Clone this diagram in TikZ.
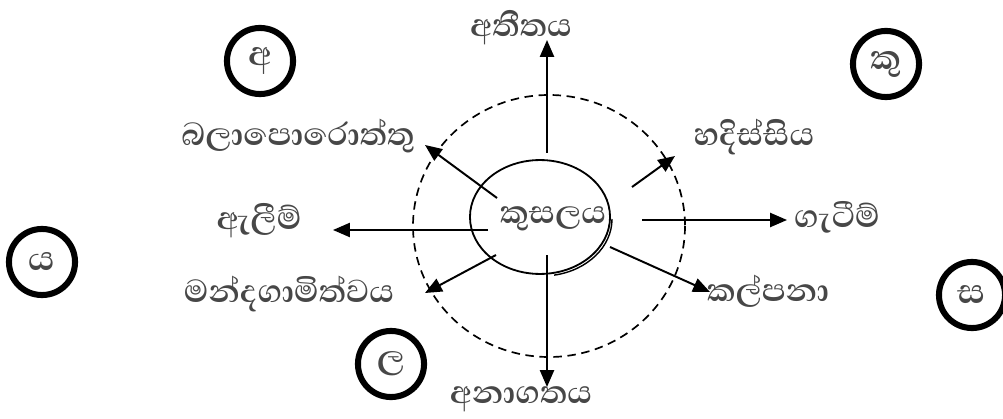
\documentclass[tikz,border=0pt]{standalone}
\usepackage{fontspec}
\newfontfamily\sinfont[Script=Sinhala]{Abhaya Libre}
\usetikzlibrary{arrows.meta,shapes.geometric}
\tikzset{lbl/.style={text=black!72, inner sep=0pt, font=\sinfont\bfseries\fontsize{29}{32}\selectfont},
         ring/.style={circle, draw, line width=4.3pt, minimum size=47pt, inner sep=0pt, text=black!72, font=\sinfont\bfseries\fontsize{31}{34}\selectfont},
         arr/.style={line width=1.4pt, -{Triangle[length=12pt,width=10pt]}}}

\begin{document}
\begin{tikzpicture}[x=0.025cm, y=-0.025cm]
\useasboundingbox (0,0) rectangle (1003,419);
\draw [line width=1.2pt, dash pattern=on 6pt off 4pt] (549,226) ellipse [x radius=136, y radius=131];
\node [ellipse, draw, line width=1.3pt, minimum width=99.6pt, minimum height=81pt] (kusal) at (540,217) {};
\draw [line width=1pt] (542,219) ++(0:70 and 57) arc [start angle=0, end angle=80, x radius=70, y radius=57];
\node [lbl] (kusalaya) at (553,219) {කුසලය};
\node [lbl] (atita) at (521,28) {අතීතය};
\node [lbl] (anagata) at (521,399) {අනාගතය};
\node [lbl] (balaporottu) at (298,136) {බලාපොරොත්තු};
\node [lbl] (alim) at (259,221) {ඇලීම්};
\node [lbl] (mandagami) at (289,294) {මන්දගාමිත්වය};
\node [lbl] (hadissiya) at (754,137) {හදිස්සිය};
\node [lbl] (gatim) at (837,217) {ගැටීම්};
\node [lbl] (kalpana) at (768,291) {කල්පනා};
\node [ring] (ringA) at (260,61) {අ};
\node [ring] (ringKu) at (886,64) {කු};
\node [ring] (ringYa) at (42,262) {ය};
\node [ring] (ringSa) at (972,295) {ස};
\node [ring] (ringLa) at (391,364) {ල};
\coordinate (upS) at (547,153);
\coordinate (upT) at (547,40);
\coordinate (downS) at (547,255);
\coordinate (downT) at (547,387);
\coordinate (leftS) at (488,230);
\coordinate (leftT) at (333,230);
\coordinate (rightS) at (642,220);
\coordinate (rightT) at (787,220);
\coordinate (ulS) at (497,198);
\coordinate (ulT) at (425,145);
\coordinate (urS) at (632,187);
\coordinate (urT) at (675,156);
\coordinate (dlS) at (496,255);
\coordinate (dlT) at (425,293);
\coordinate (drS) at (610,247);
\coordinate (drT) at (710,292);
\draw [arr] (upS) -- (upT);
\draw [arr] (downS) -- (downT);
\draw [arr] (leftS) -- (leftT);
\draw [arr] (rightS) -- (rightT);
\draw [arr] (ulS) -- (ulT);
\draw [arr] (urS) -- (urT);
\draw [arr] (dlS) -- (dlT);
\draw [arr] (drS) -- (drT);
\end{tikzpicture}
\end{document}
